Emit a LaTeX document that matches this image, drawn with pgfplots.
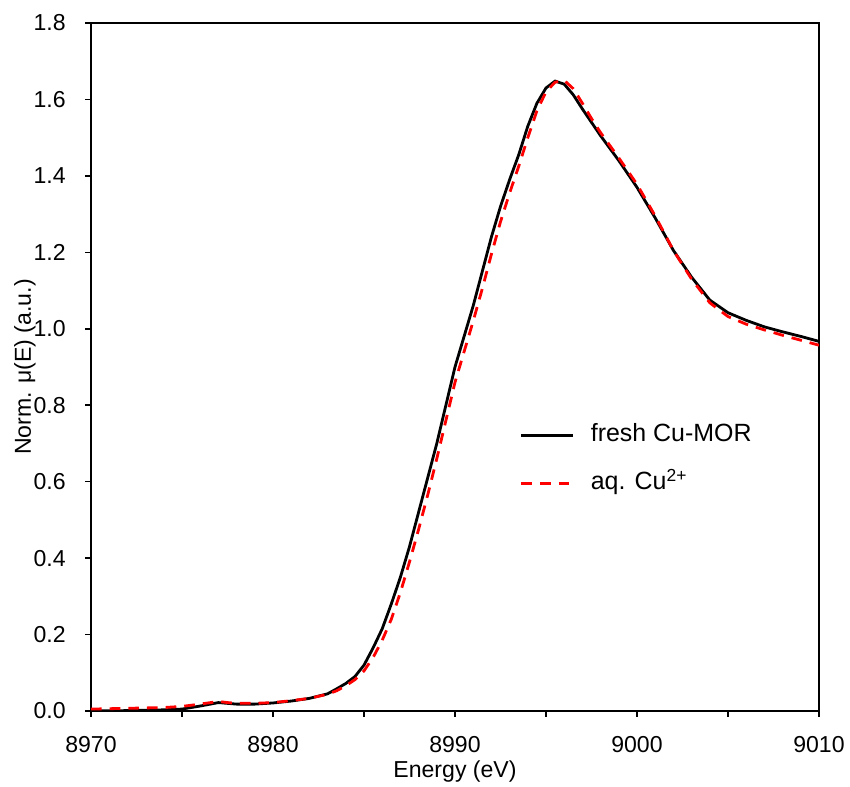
\documentclass[border=0pt]{standalone}
\usepackage{pgfplots}
\pgfplotsset{compat=1.18}
\usepackage{fontspec}
\setmainfont{Liberation Sans}
\begin{document}
\fontsize{17.3}{20.8}\selectfont
\begin{tikzpicture}
\begin{axis}[
  scale only axis,
  width=546pt, height=516pt,
  xmin=8970, xmax=9010, ymin=0, ymax=1.8,
  xtick={8970,8980,...,9010},
  minor xtick={8975,8985,...,9005},
  ytick={0,0.2,...,1.8},
  xtick pos=bottom, ytick pos=left,
  tick align=outside,
  major tick length=4.5pt, minor tick length=4.5pt,
  every tick/.style={black, line width=1.1pt},
  axis line style={line width=1.3pt},
  /pgf/number format/assume math mode=true,
  xticklabel style={/pgf/number format/1000 sep={}, anchor=north, inner sep=0pt, yshift=-14.25pt},
  yticklabel style={/pgf/number format/fixed, /pgf/number format/fixed zerofill, /pgf/number format/precision=1, anchor=east, inner sep=0pt, xshift=-14.25pt},
  xlabel={Energy (eV)},
  ylabel={Norm. μ(E) (a.u.)},
  every axis x label/.style={at={(axis description cs:0.5,-0.0887)}, anchor=center},
  every axis y label/.style={at={(axis description cs:-0.0907,0.5)}, rotate=90, anchor=center},
  legend style={at={(axis description cs:0.589,0.366)}, anchor=west, draw=none, fill=none, inner sep=0pt,
    row sep=19.5pt, column sep=12pt, font=\fontsize{18.7}{22}\selectfont,
    nodes={inner sep=0pt, text height=13pt, text depth=3.5pt, anchor=west}},
  legend cell align=left,
  legend image code/.code={\draw[#1] (0pt,0pt) -- (39pt,0pt);},
]
\addplot[black, line width=2.1pt] coordinates {
(8970,0.000) (8972,0.001) (8974,0.003) (8975,0.005) (8976,0.013) (8977,0.022)
(8977.5,0.020) (8978,0.018) (8979,0.018) (8980,0.021) (8981,0.026) (8982,0.033)
(8983,0.045) (8983.5,0.058) (8984,0.072) (8984.5,0.090) (8985,0.120) (8985.5,0.165)
(8986,0.215) (8986.5,0.280) (8987,0.350) (8987.5,0.430) (8988,0.520) (8988.5,0.610)
(8989,0.700) (8989.5,0.800) (8990,0.900) (8990.5,0.980) (8991,1.060) (8991.5,1.150)
(8992,1.240) (8992.5,1.320) (8993,1.390) (8993.5,1.455) (8994,1.530) (8994.5,1.590)
(8995,1.630) (8995.5,1.648) (8996,1.640) (8996.5,1.612) (8997,1.575) (8997.5,1.540)
(8998,1.505) (8999,1.440) (9000,1.370) (9001,1.290) (9002,1.205) (9003,1.135)
(9004,1.075) (9005,1.042) (9006,1.022) (9007,1.005) (9008,0.992) (9009,0.980) (9010,0.967)
};
\addlegendentry{fresh Cu-MOR}
\addplot[red, line width=2.1pt, dash pattern=on 8pt off 6pt] coordinates {
(8970,0.005) (8972,0.007) (8974,0.009) (8975,0.012) (8976,0.018) (8977,0.025)
(8977.5,0.022) (8978,0.020) (8979,0.020) (8980,0.022) (8981,0.027) (8982,0.033)
(8983,0.044) (8983.5,0.053) (8984,0.066) (8984.5,0.082) (8985,0.105) (8985.5,0.140)
(8986,0.185) (8986.5,0.240) (8987,0.310) (8987.5,0.390) (8988,0.475) (8988.5,0.565)
(8989,0.660) (8989.5,0.760) (8990,0.860) (8990.5,0.940) (8991,1.020) (8991.5,1.105)
(8992,1.195) (8992.5,1.280) (8993,1.355) (8993.5,1.425) (8994,1.500) (8994.5,1.570)
(8995,1.620) (8995.5,1.645) (8996,1.650) (8996.5,1.628) (8997,1.590) (8997.5,1.550)
(8998,1.513) (8999,1.447) (9000,1.378) (9001,1.295) (9002,1.205) (9003,1.130)
(9004,1.068) (9005,1.032) (9006,1.012) (9007,0.997) (9008,0.983) (9009,0.970) (9010,0.957)
};
\addlegendentry{aq. Cu\textsuperscript{2+}}
\end{axis}
\pgfresetboundingbox
\path[use as bounding box] (-68.25pt,-57pt) rectangle (569.25pt,533.25pt);
\end{tikzpicture}
\end{document}
